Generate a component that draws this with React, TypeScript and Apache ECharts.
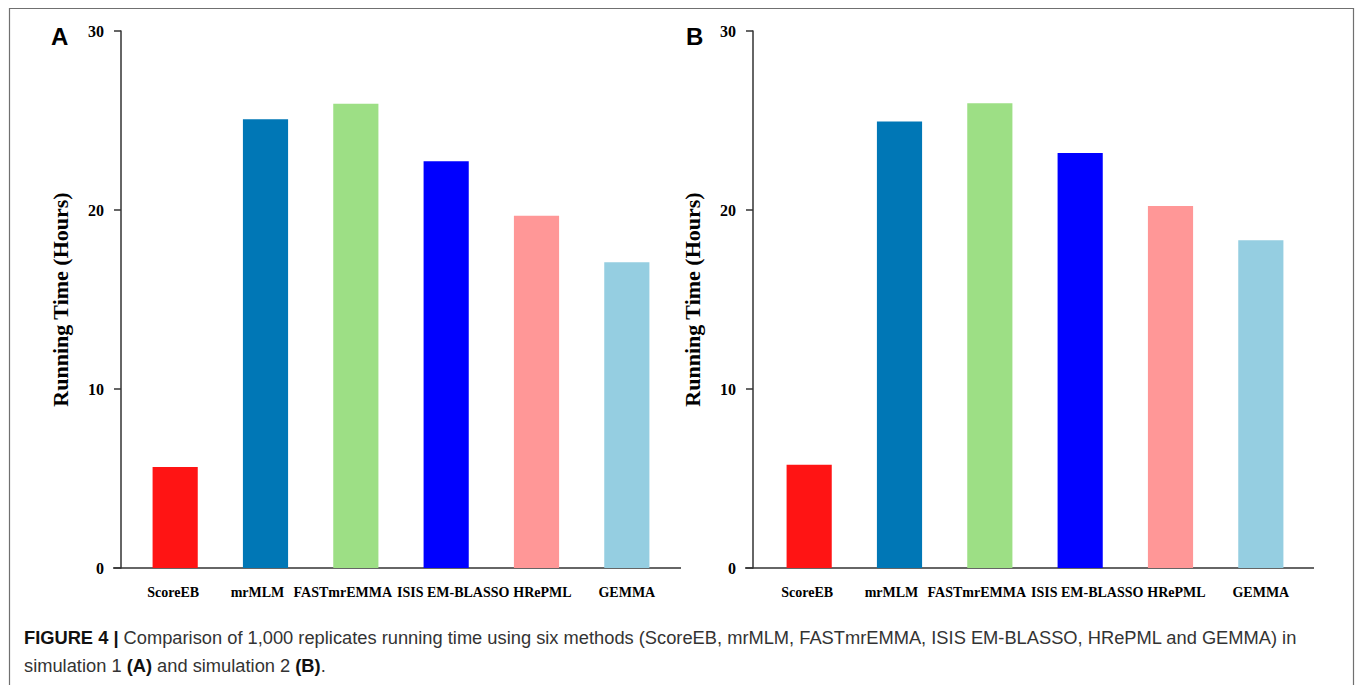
import React, { useEffect, useRef } from "react";
import * as echarts from "echarts";

const categories = ["ScoreEB", "mrMLM", "FASTmrEMMA", "ISIS EM-BLASSO", "HRePML", "GEMMA"];
const sim1Hours = [5.64, 25.07, 25.93, 22.72, 19.68, 17.08];
const sim2Hours = [5.77, 24.95, 25.96, 23.18, 20.22, 18.31];
const barColors = ["#ff1414", "#0077b6", "#9ddf85", "#0000ff", "#ff9797", "#95cee1"];
const yMin = 0;
const yMax = 30;
const yInterval = 10;
const yAxisTitle = "Running Time (Hours)";
const panelLetters = ["A", "B"];
const captionLine1 = "Comparison of 1,000 replicates running time using six methods (ScoreEB, mrMLM, FASTmrEMMA, ISIS EM-BLASSO, HRePML and GEMMA) in";

const SERIF = "'Liberation Serif', 'Times New Roman', serif";
const SANS = "'Liberation Sans', Arial, Helvetica, sans-serif";

// horizontal nudge of each category label (px, + = right), layout only
const labelShift = [-2, -8, -13, 7, 6, 0];

export default function App() {
  const ref = useRef<HTMLDivElement>(null);
  useEffect(() => {
    if (!ref.current) return;
    const chart = echarts.init(ref.current, undefined, { renderer: "svg" });
    const grids = [
      { left: 130, top: 31, width: 542, height: 537 },
      { left: 764, top: 31, width: 542, height: 537 },
    ];
    const yAxisOffsets = [9, 11];
    const data = [sim1Hours, sim2Hours];
    const rich: any = {};
    labelShift.forEach((s, i) => {
      rich["c" + i] = {
        color: "#000",
        fontFamily: SERIF,
        fontWeight: "bold",
        fontSize: 14,
        padding: s >= 0 ? [0, 0, 0, 2 * s] : [0, -2 * s, 0, 0],
      };
    });
    const option: any = {
      animation: false,
      backgroundColor: "#ffffff",
      grid: grids,
      xAxis: grids.map((_, i) => ({
        type: "category",
        gridIndex: i,
        data: categories,
        axisLine: { show: false },
        axisTick: { show: false },
        axisLabel: {
          interval: 0,
          margin: 17,
          color: "#000",
          fontFamily: SERIF,
          fontWeight: "bold",
          fontSize: 14,
          formatter: (v: string, idx: number) => `{c${idx}|${v}}`,
          rich,
        },
      })),
      yAxis: grids.map((_, i) => ({
        type: "value",
        gridIndex: i,
        min: yMin,
        max: yMax,
        interval: yInterval,
        offset: yAxisOffsets[i],
        name: yAxisTitle,
        nameLocation: "middle",
        nameGap: 50,
        nameTextStyle: {
          color: "#000",
          fontFamily: SERIF,
          fontWeight: "bold",
          fontSize: 22,
        },
        axisLine: { show: true, lineStyle: { color: "#333", width: 1.5 } },
        axisTick: { show: true, length: 7, lineStyle: { color: "#333", width: 1.5 } },
        splitLine: { show: false },
        axisLabel: {
          margin: 17,
          color: "#000",
          fontFamily: SERIF,
          fontWeight: "bold",
          fontSize: 16,
        },
      })),
      series: data.map((vals, i) => ({
        type: "bar",
        xAxisIndex: i,
        yAxisIndex: i,
        barWidth: "50%",
        data: vals.map((v, j) => ({ value: v, itemStyle: { color: barColors[j] } })),
      })),
      graphic: [
        {
          type: "rect",
          shape: { x: 9.5, y: 8.5, width: 1344, height: 720 },
          style: { fill: "none", stroke: "#707070", lineWidth: 1.2 },
          silent: true,
        },
        {
          type: "line",
          shape: { x1: 113, y1: 568, x2: 681, y2: 568 },
          style: { stroke: "#333", lineWidth: 1.5 },
        },
        {
          type: "line",
          shape: { x1: 745, y1: 568, x2: 1314, y2: 568 },
          style: { stroke: "#333", lineWidth: 1.5 },
        },
        {
          type: "text",
          x: 51,
          y: 36,
          style: {
            text: panelLetters[0],
            fill: "#000",
            font: `bold 24px ${SANS}`,
            textVerticalAlign: "middle",
          },
        },
        {
          type: "text",
          x: 686,
          y: 36,
          style: {
            text: panelLetters[1],
            fill: "#000",
            font: `bold 24px ${SANS}`,
            textVerticalAlign: "middle",
          },
        },
        {
          type: "text",
          x: 24,
          y: 637,
          style: {
            text: `{b|FIGURE 4 |} ${captionLine1}`,
            fill: "#333",
            fontSize: 18.3,
            fontFamily: SANS,
            textVerticalAlign: "middle",
            rich: {
              b: { fontWeight: "bold", fill: "#111", fontSize: 18.3, fontFamily: SANS },
            },
          },
        },
        {
          type: "text",
          x: 24,
          y: 665,
          style: {
            text: "simulation 1 {b|(A)} and simulation 2 {b|(B)}.",
            fill: "#333",
            fontSize: 18.3,
            fontFamily: SANS,
            textVerticalAlign: "middle",
            rich: {
              b: { fontWeight: "bold", fill: "#111", fontSize: 18.3, fontFamily: SANS },
            },
          },
        },
      ],
    };
    chart.setOption(option);
    return () => chart.dispose();
  }, []);
  return (
    <div
      ref={ref}
      style={{ position: "absolute", left: 0, top: 0, width: 1355, height: 685, background: "#fff" }}
    />
  );
}
